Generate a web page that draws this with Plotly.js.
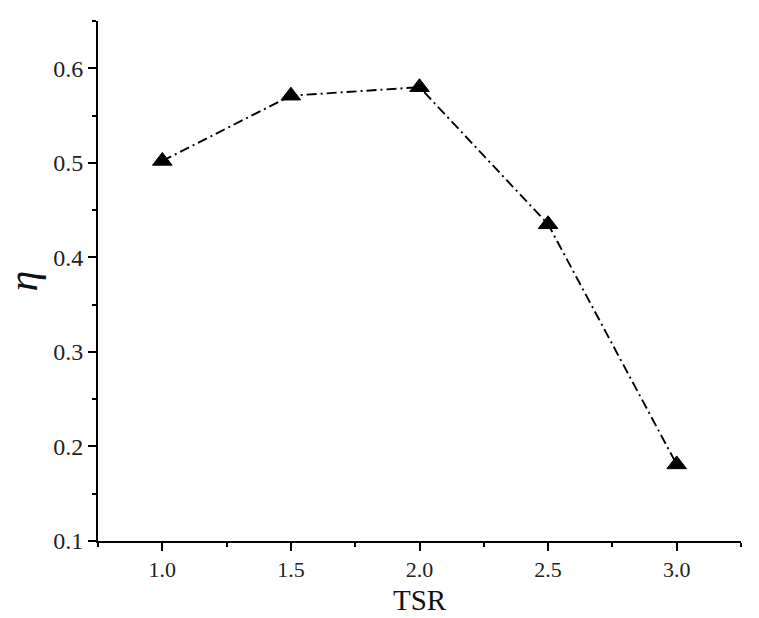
<!DOCTYPE html>
<html>
<head>
<meta charset="utf-8">
<script src="https://cdn.plot.ly/plotly-3.0.1.min.js"></script>
<style>html,body{margin:0;padding:0;background:#fff;}#chart{width:759px;height:618px;}</style>
</head>
<body>
<div id="chart"></div>
<script>
const tsr = [1.0, 1.5, 2.0, 2.5, 3.0];
const eta = [0.502, 0.571, 0.580, 0.435, 0.181];
const xTickVals = [1.0, 1.5, 2.0, 2.5, 3.0];
const xTickText = ['1.0', '1.5', '2.0', '2.5', '3.0'];
const yTickVals = [0.1, 0.2, 0.3, 0.4, 0.5, 0.6];
const yTickText = ['0.1', '0.2', '0.3', '0.4', '0.5', '0.6'];
const xTitle = 'TSR';

const serif = 'Liberation Serif';

const trace = {
  x: tsr, y: eta, type: 'scatter', mode: 'lines+markers',
  line: {color: '#000', width: 1.9, dash: '10px,4px,2px,4px'},
  marker: {symbol: 'triangle-up', size: 17, color: '#000', line: {color: '#000', width: 1}},
  cliponaxis: false, showlegend: false
};

const layout = {
  width: 759, height: 618,
  margin: {l: 98, r: 18, t: 21, b: 77},
  paper_bgcolor: '#fff', plot_bgcolor: '#fff',
  font: {family: serif, size: 24, color: '#222'},
  xaxis: {
    showgrid: false, zeroline: false, showline: true, linecolor: '#000', linewidth: 2,
    ticks: 'outside', ticklen: 8, tickwidth: 2, tickcolor: '#000',
    tickfont: {family: serif, size: 22, color: '#222'},
    range: [0.75, 3.25], tickmode: 'array', tickvals: xTickVals, ticktext: xTickText,
    minor: {ticks: 'outside', ticklen: 4, tickwidth: 2, tickcolor: '#000', showgrid: false, dtick: 0.25, tick0: 0.75}
  },
  yaxis: {
    showgrid: false, zeroline: false, showline: true, linecolor: '#000', linewidth: 2,
    ticks: 'outside', ticklen: 8, tickwidth: 2, tickcolor: '#000',
    tickfont: {family: serif, size: 24, color: '#222'},
    range: [0.1, 0.65], tickmode: 'array', tickvals: yTickVals, ticktext: yTickText,
    minor: {ticks: 'outside', ticklen: 4, tickwidth: 2, tickcolor: '#000', showgrid: false, dtick: 0.05, tick0: 0.1},
    title: {text: '<i>η</i>', font: {family: serif, size: 42, color: '#111'}, standoff: 24}
  },
  annotations: [{
    text: xTitle, xref: 'paper', yref: 'paper', x: 0.5, y: 0,
    xanchor: 'center', yanchor: 'top', yshift: -41, showarrow: false,
    font: {family: serif, size: 29, color: '#111'}
  }]
};

Plotly.newPlot('chart', [trace], layout, {displayModeBar: false, staticPlot: true});
</script>
</body>
</html>
